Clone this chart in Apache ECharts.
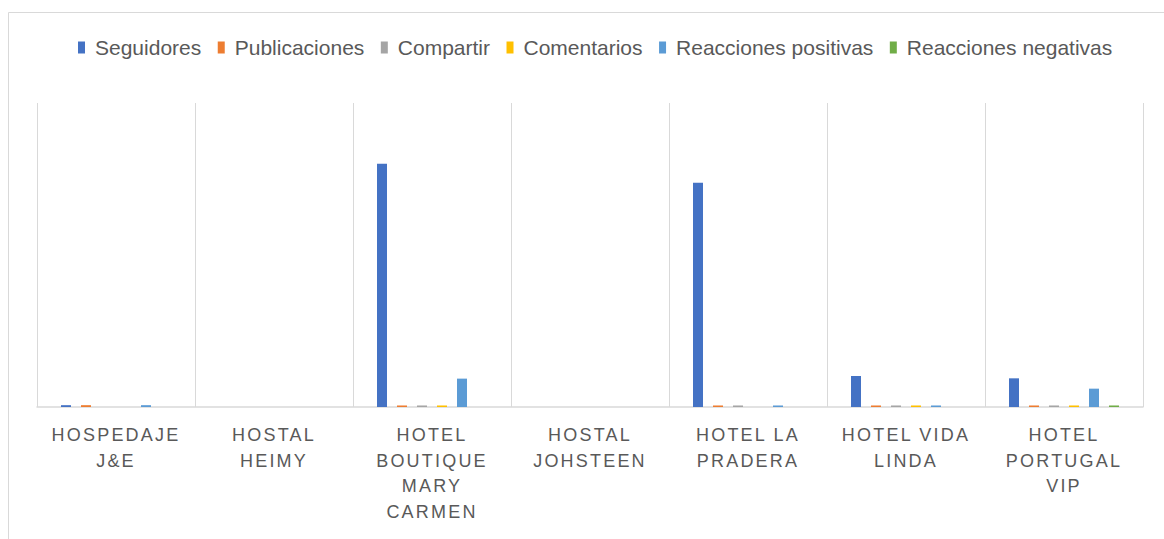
<!DOCTYPE html>
<html>
<head>
<meta charset="utf-8">
<title>Redes sociales hoteles</title>
<script src="https://cdn.jsdelivr.net/npm/echarts@6/dist/echarts.min.js"></script>
<style>
  html, body { margin: 0; padding: 0; background: #fff; }
  #main { width: 1164px; height: 539px; }
  /* etiquetas del eje con espaciado entre letras, como en el original */
  #main text[style*="Arial"] { letter-spacing: 2.2px; }
</style>
</head>
<body>
<div id="main"></div>
<script>
// categorias (etiquetas tal como se ven en el eje)
const hoteles = ['HOSPEDAJE\nJ&E', 'HOSTAL\nHEIMY', 'HOTEL\nBOUTIQUE\nMARY\nCARMEN', 'HOSTAL\nJOHSTEEN',
  'HOTEL LA\nPRADERA', 'HOTEL VIDA\nLINDA', 'HOTEL\nPORTUGAL\nVIP']

const seguidores = [18, 0, 2400, 0, 2214, 306, 283]
const publicaciones = [18, 0, 15, 0, 15, 15, 15]
const compartir = [0, 0, 15, 0, 15, 15, 15]
const comentarios = [0, 0, 15, 0, 0, 15, 15]
const reaccionesPositivas = [18, 0, 280, 0, 15, 15, 181]
const reaccionesNegativas = [0, 0, 0, 0, 0, 0, 15]

const nombres = ['Seguidores', 'Publicaciones', 'Compartir', 'Comentarios', 'Reacciones positivas', 'Reacciones negativas']
const colores = ['#4472C4', '#ED7D31', '#A5A5A5', '#FFC000', '#5B9BD5', '#70AD47']
const valores = [seguidores, publicaciones, compartir, comentarios, reaccionesPositivas, reaccionesNegativas]

const myChart = echarts.init(document.getElementById('main'), null, { renderer: 'svg' })

let series = nombres.map(function (n, i) {
  return {
    name: n,
    type: 'bar',
    barWidth: 10,
    barGap: '100%',
    itemStyle: { color: colores[i] },
    data: valores[i]
  }
})

let option = {
  animation: false,
  color: colores,
  graphic: [
    {
      type: 'rect',
      shape: { x: 8.5, y: 12.5, width: 1300, height: 700 },
      style: { fill: 'none', stroke: '#d9d9d9', lineWidth: 1 },
      silent: true
    }
  ],
  legend: {
    data: nombres,
    left: 73,
    top: 32,
    icon: 'rect',
    itemWidth: 7,
    itemHeight: 12,
    itemGap: 16.5,
    textStyle: {
      color: '#595959',
      fontFamily: 'Liberation Sans',
      fontSize: 21,
      padding: [0, 0, 0, 5]
    }
  },
  grid: {
    left: 37,
    right: 21,
    top: 103,
    bottom: 132
  },
  xAxis: {
    type: 'category',
    data: hoteles,
    axisLine: { lineStyle: { color: '#d9d9d9', width: 1.5 } },
    axisTick: { show: false },
    splitLine: { show: true, lineStyle: { color: '#d9d9d9', width: 1 } },
    axisLabel: {
      interval: 0,
      margin: 15,
      color: '#595959',
      fontFamily: 'Liberation Sans, Arial',
      fontSize: 18,
      lineHeight: 25.7
    }
  },
  yAxis: {
    type: 'value',
    min: 0,
    max: 3000,
    show: false,
    splitLine: { show: false }
  },
  series: series
}

myChart.setOption(option)
</script>
</body>
</html>
